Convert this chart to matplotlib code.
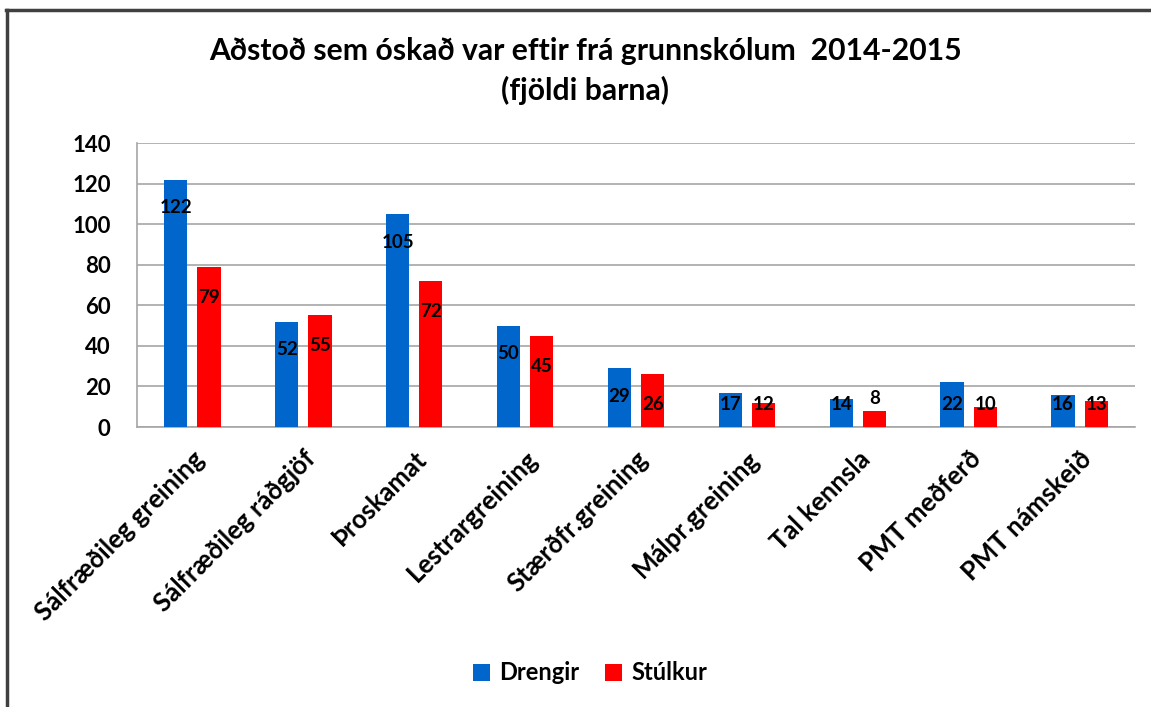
import matplotlib
matplotlib.use("Agg")
import matplotlib.pyplot as plt
from matplotlib.lines import Line2D
import numpy as np

categories = ["Sálfræðileg greining", "Sálfræðileg ráðgjöf", "Þroskamat",
              "Lestrargreining", "Stærðfr.greining", "Málpr.greining",
              "Tal kennsla", "PMT meðferð", "PMT námskeið"]
drengir = [122, 52, 105, 50, 29, 17, 14, 22, 16]
stulkur = [79, 55, 72, 45, 26, 12, 8, 10, 13]
series_names = ["Drengir", "Stúlkur"]
title = "Aðstoð sem óskað var eftir frá grunnskólum  2014-2015\n(fjöldi barna)"

BLUE = "#0066CC"
RED = "#FF0000"
FONT = ["Lato", "DejaVu Sans"]
TITLE_FONT = ["Lato", "DejaVu Sans"]

W, H = 1151, 707
fig = plt.figure(figsize=(W / 100, H / 100), dpi=100)
ax = fig.add_axes([137 / W, 1 - 427 / H, (1135 - 137) / W, (427 - 143) / H])

x = np.arange(len(categories))
bw = 0.21
off = 0.15
ax.bar(x - off, drengir, bw, color=BLUE, zorder=3, label=series_names[0])
ax.bar(x + off, stulkur, bw, color=RED, zorder=3, label=series_names[1])

for xi, v in zip(x - off, drengir):
    ax.text(xi, max(v - 14, 11), str(v), ha="center", va="center",
            fontsize=13.5, fontweight="bold", family=FONT, zorder=4)
for xi, v in zip(x + off, stulkur):
    ax.text(xi, max(v - 15, 11) if v > 9 else v + 6, str(v), ha="center", va="center",
            fontsize=13.5, fontweight="bold", family=FONT, zorder=4)

ax.set_xlim(-0.5, len(categories) - 0.5)
ax.set_ylim(0, 140)
ax.set_yticks(range(0, 141, 20))
ax.yaxis.grid(True, color="#A6A6A6", linewidth=1.2, zorder=0)
ax.set_axisbelow(True)
for s in ["top", "right"]:
    ax.spines[s].set_visible(False)
ax.spines["left"].set_color("#A6A6A6")
ax.spines["bottom"].set_color("#A6A6A6")
ax.spines["left"].set_linewidth(1.2)
ax.spines["bottom"].set_linewidth(1.2)
ax.tick_params(axis="both", length=0)
ax.tick_params(axis="y", pad=19)
for lbl in ax.get_yticklabels():
    lbl.set_family(FONT)
    lbl.set_fontweight("bold")
    lbl.set_fontsize(16)

ax.set_xticks(x)
ax.set_xticklabels(categories, rotation=45, ha="right", rotation_mode="anchor",
                   family=FONT, fontweight="bold", fontsize=18.5)
ax.tick_params(axis="x", pad=14)

fig.text(585 / W, 1 - 71 / H, title, ha="center", va="center", family=TITLE_FONT,
         fontweight="bold", fontsize=21.7, linespacing=1.45)

leg = fig.legend(loc="center", bbox_to_anchor=(590 / W, 1 - 673 / H), ncol=2,
                 frameon=False, prop={"family": FONT, "weight": "bold", "size": 17},
                 handlelength=0.7, handleheight=0.7, handletextpad=0.4,
                 columnspacing=1.1)

fig.add_artist(Line2D([6 / W, 1], [1 - 10 / H, 1 - 10 / H], color="#404040", linewidth=2.5,
                      transform=fig.transFigure))
fig.add_artist(Line2D([7 / W, 7 / W], [0, 1 - 10 / H], color="#404040", linewidth=2.5,
                      transform=fig.transFigure))

fig.savefig("out.png", dpi=100)
